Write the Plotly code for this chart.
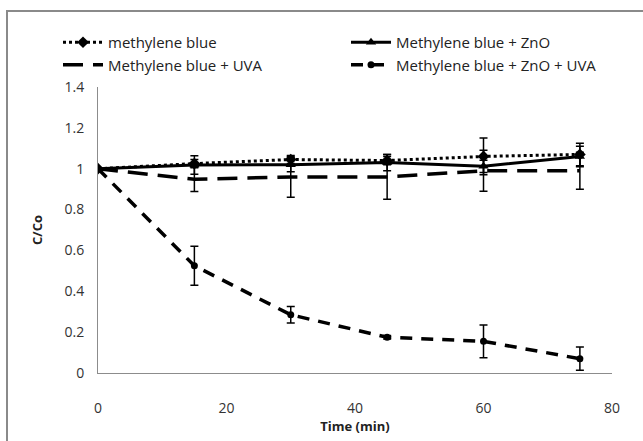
import plotly.graph_objects as go

time_min = [0, 15, 30, 45, 60, 75]

mb = [1.0, 1.025, 1.045, 1.04, 1.06, 1.07]
mb_err = [0.0, 0.02, 0.02, 0.02, 0.09, 0.055]

mb_zno = [1.0, 1.018, 1.02, 1.03, 1.012, 1.06]
mb_zno_err = [0.0, 0.045, 0.035, 0.04, 0.03, 0.05]

mb_uva = [1.0, 0.948, 0.96, 0.96, 0.99, 0.99]
mb_uva_err = [0.0, 0.06, 0.1, 0.11, 0.1, 0.09]

mb_zno_uva = [1.0, 0.525, 0.285, 0.175, 0.155, 0.07]
mb_zno_uva_err = [0.0, 0.095, 0.04, 0.008, 0.08, 0.057]

x_ticks = [0, 20, 40, 60, 80]
y_ticks = [0, 0.2, 0.4, 0.6, 0.8, 1.0, 1.2, 1.4]
y_ticklabels = ["0", "0.2", "0.4", "0.6", "0.8", "1", "1.2", "1.4"]

W, H = 643, 441
L, R, T, B = 98, 31, 87, 68
pw, ph = W - L - R, H - T - B

FONT = "Open Sans"
black = "#000000"

def err(arr):
    return dict(type="data", array=arr, visible=True, color=black, thickness=1.5, width=4)

fig = go.Figure()
fig.add_trace(go.Scatter(
    x=time_min, y=mb, name="methylene blue", mode="lines+markers", legend="legend",
    line=dict(color=black, width=3, dash="dot"),
    marker=dict(symbol="diamond", size=9, color=black),
    error_y=err(mb_err)))
fig.add_trace(go.Scatter(
    x=time_min, y=mb_zno, name="Methylene blue + ZnO", mode="lines+markers", legend="legend2",
    line=dict(color=black, width=3, dash="solid"),
    marker=dict(symbol="triangle-up", size=9, color=black),
    error_y=err(mb_zno_err)))
fig.add_trace(go.Scatter(
    x=time_min, y=mb_uva, name="Methylene blue + UVA", mode="lines", legend="legend",
    line=dict(color=black, width=3.5, dash="20px,10px"),
    error_y=err(mb_uva_err)))
fig.add_trace(go.Scatter(
    x=time_min, y=mb_zno_uva, name="Methylene blue + ZnO + UVA", mode="lines+markers", legend="legend2",
    line=dict(color=black, width=3.5, dash="12px,9px"),
    marker=dict(symbol="circle", size=7, color=black),
    error_y=err(mb_zno_uva_err)))

axis_col = "#8c8c8c"

def px_x(px):
    return (px - L) / pw

def px_y(py):
    return (H - B - py) / ph

leg_common = dict(
    orientation="v", xanchor="left", yanchor="top",
    font=dict(family=FONT, size=15, color="#222222"),
    bgcolor="rgba(0,0,0,0)", tracegroupgap=0, itemwidth=40,
)

fig.update_layout(
    width=W, height=H,
    margin=dict(l=L, r=R, t=T, b=B, pad=0),
    paper_bgcolor="white", plot_bgcolor="white",
    font=dict(family=FONT, size=13, color="#222222"),
    showlegend=True,
    legend=dict(x=px_x(58), y=px_y(26), **leg_common),
    legend2=dict(x=px_x(346), y=px_y(26), **leg_common),
    xaxis=dict(
        range=[0, 80], tickvals=x_ticks, showgrid=False, zeroline=False,
        showline=True, linecolor=axis_col, linewidth=1, ticks="",
        ticklabelstandoff=22, tickfont=dict(size=14, color="#333333"),
        title=dict(text="<b>Time (min)</b>", standoff=0, font=dict(size=13, color="#222222")),
    ),
    yaxis=dict(
        range=[0, 1.4], tickvals=y_ticks, ticktext=y_ticklabels, showgrid=False,
        zeroline=False, showline=True, linecolor=axis_col, linewidth=1, ticks="",
        ticklabelstandoff=10, tickfont=dict(size=14, color="#333333"),
        title=dict(text="<b>C/Co</b>", standoff=18, font=dict(size=13, color="#222222")),
    ),
    shapes=[dict(
        type="rect", xref="paper", yref="paper",
        x0=px_x(7), x1=px_x(W + 10),
        y0=px_y(H + 10), y1=px_y(11),
        line=dict(color="#8a8a8a", width=2), fillcolor="rgba(0,0,0,0)", layer="below",
    )],
)

fig.write_html("out.html")
